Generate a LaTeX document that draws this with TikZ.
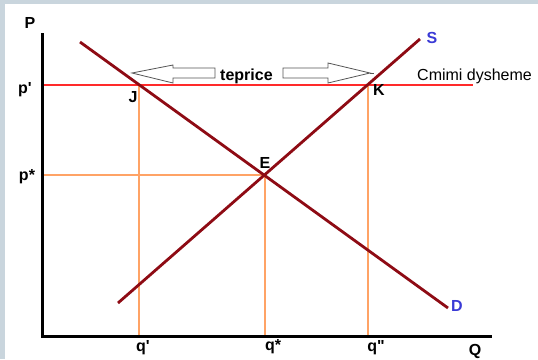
\documentclass[tikz,border=0pt]{standalone}
\usepackage{fontspec}
\setmainfont{Liberation Sans}
\newfontfamily\qfont{Liberation Sans}
\definecolor{frame}{HTML}{C9D5DD}
\definecolor{curve}{HTML}{8E0B14}
\definecolor{priceline}{HTML}{FF2A2A}
\definecolor{guide}{HTML}{FFA366}
\definecolor{lblue}{HTML}{3A3AD6}
\definecolor{arrowline}{HTML}{555555}
\begin{document}
\begin{tikzpicture}[x=1pt,y=-1pt,
  axis/.style={line width=3pt,black},
  curveline/.style={line width=2.8pt,curve},
  pline/.style={line width=1.2pt,draw=priceline},
  guideline/.style={line width=1.1pt,draw=guide},
  lbl/.style={font=\qfont\fontsize{16}{19}\selectfont\bfseries,inner sep=0pt,anchor=base},
  clbl/.style={lbl,text=lblue},
  blockarrow/.style={draw=arrowline,line width=0.8pt,fill=white}]
\useasboundingbox (0,0) rectangle (538,359);
\fill[frame] (0,0) rectangle (538,359);
\fill[white] (5,4) rectangle (538,359);
% key points
\coordinate (O) at (42,336);
\coordinate (Ytop) at (42,34);
\coordinate (Xend) at (490,336);
\coordinate (Dstart) at (80,42);
\coordinate (Dend) at (448,308);
\coordinate (Sstart) at (118,303);
\coordinate (Send) at (420,39);
\coordinate (J) at (139,85);
\coordinate (K) at (368,85);
\coordinate (E) at (265,175);
\coordinate (pp) at (43,85);
\coordinate (pend) at (473,85);
\coordinate (ps) at (43,175);
\coordinate (q1) at (139,336);
\coordinate (q2) at (265,336);
\coordinate (q3) at (368,336);
% guide lines
\draw[pline] (pp) -- (pend);
\draw[guideline] (ps) -- (E);
\draw[guideline] (J) -- (q1);
\draw[guideline] (E) -- (q2);
\draw[guideline] (K) -- (q3);
% curves
\draw[curveline] (Dstart) -- (Dend);
\draw[curveline] (Sstart) -- (Send);
% axes
\draw[axis,line cap=rect] (Ytop) -- (O) -- (Xend);
% block arrows
\draw[blockarrow] (132,73) -- (173,65) -- (173,68) -- (215,68) -- (215,78) -- (173,78) -- (173,83) -- cycle;
\draw[blockarrow] (370,73) -- (328,83) -- (328,78) -- (283,78) -- (283,68) -- (328,68) -- (328,63) -- cycle;
\draw[arrowline,line width=0.8pt] (370,73) -- (374,73);
\node[lbl,anchor=base west] (tp) at (220,80) {teprice};
% labels
\node[lbl] (P) at (30,28) {P};
\node[lbl] (pprime) at (25,93) {p'};
\node[lbl] (pstar) at (27,180) {p*};
\node[lbl] (Jl) at (133,102) {J};
\node[lbl] (Kl) at (379,95) {K};
\node[lbl] (El) at (265,168) {E};
\node[clbl] (Sl) at (432,43) {S};
\node[clbl] (Dl) at (457,311) {D};
\node[inner sep=0pt,anchor=base west,font=\qfont\fontsize{16}{19}\selectfont] (cm) at (417,80) {Cmimi dysheme};
\node[lbl] (q1l) at (143,351) {q'};
\node[lbl] (q2l) at (273,350) {q*};
\node[lbl] (q3l) at (376,351) {q"};
\node[lbl] (Ql) at (475,355) {Q};
\end{tikzpicture}
\end{document}
